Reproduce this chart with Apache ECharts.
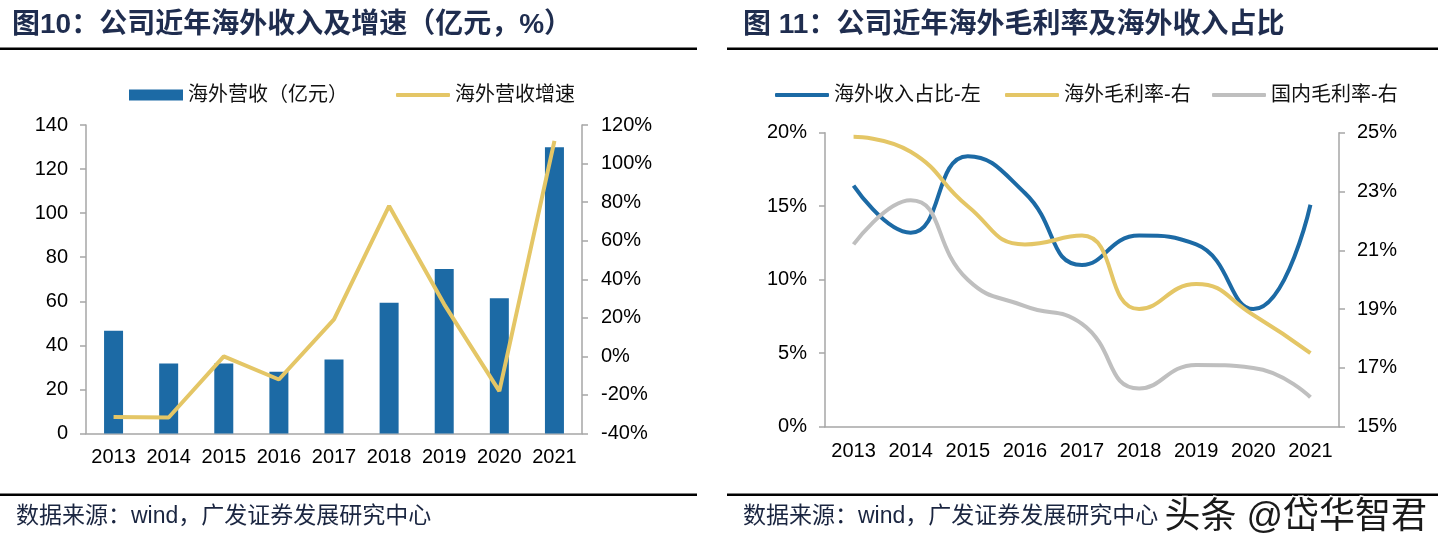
<!DOCTYPE html>
<html><head><meta charset="utf-8">
<script src="https://cdn.jsdelivr.net/npm/echarts@6/dist/echarts.min.js"></script>
<style>html,body{margin:0;padding:0;background:#fff}#c{width:1442px;height:552px}</style>
</head><body><div id="c"></div>
<script>
const years = ['2013','2014','2015','2016','2017','2018','2019','2020','2021'];
// 图10
const overseasRevenue = [46.6, 31.8, 31.8, 28.0, 33.6, 59.3, 74.7, 61.4, 129.9];
const overseasGrowth = [-31.4, -31.7, 0.0, -12.0, 19.2, 78.0, 27.0, -18.0, 111.8];
// 图11
const overseasShare = [16.4, 13.2, 18.4, 15.9, 11.0, 13.0, 12.4, 8.0, 15.1];
const overseasMargin = [24.86, 24.35, 22.5, 21.2, 21.5, 19.0, 19.85, 18.8, 17.5];
const domesticMargin = [21.2, 22.7, 20.0, 19.1, 18.5, 16.3, 17.1, 17.0, 16.0];
const marginTicks = [15, 17, 19, 21, 23, 25];

const title1 = '图10：公司近年海外收入及增速（亿元，%）';
const title2 = '图 11：公司近年海外毛利率及海外收入占比';
const source = '数据来源：wind，广发证券发展研究中心';

const NUM = 'Liberation Sans, Arial, sans-serif';
const CJK = 'Liberation Sans, Noto Sans CJK SC, sans-serif';
const AX = '#a6a6a6';
const C_BLUE = '#1c6aa5', C_YEL = '#e4c666', C_GRAY = '#bfbfbf';

function xAx(gi, margin){
  return {type:'category', gridIndex:gi, data:years, boundaryGap:true,
    axisLine:{lineStyle:{color:AX, width:1.5}}, axisTick:{show:false},
    axisLabel:{fontSize:20, color:'#000', fontFamily:NUM, margin:margin, interval:0}};
}
function yAx(gi, pos, min, max, interval, fmt, margin, extra){
  const a = {type:'value', gridIndex:gi, position:pos, min:min, max:max,
    splitLine:{show:false},
    axisLine:{show:true, lineStyle:{color:AX, width:1.5}},
    axisTick:{show:true, length:6, lineStyle:{color:AX, width:1.5}},
    axisLabel:{fontSize:20, color:'#000', fontFamily:NUM, margin:margin, formatter:fmt}};
  if (interval != null) a.interval = interval;
  if (extra) extra(a);
  return a;
}
function lg(left, name, icon, w, h){
  return {left:left, top:80, itemWidth:w, itemHeight:h, icon:icon, data:[name],
    textStyle:{fontSize:20, color:'#111', fontFamily:CJK}, selectedMode:false};
}

const chart = echarts.init(document.getElementById('c'), null, {renderer:'canvas'});
chart.setOption({
  animation:false,
  backgroundColor:'#fff',
  grid:[
    {left:86, top:125, width:496, height:308.5},
    {left:825, top:132.7, width:514, height:294}
  ],
  xAxis:[xAx(0,14), xAx(1,15)],
  yAxis:[
    yAx(0,'left',0,140,20,'{value}',18),
    yAx(0,'right',-40,120,20,'{value}%',19),
    yAx(1,'left',0,20,5,'{value}%',18),
    yAx(1,'right',15,25,null,'{value}%',18, a=>{
      a.axisLabel.customValues = marginTicks;
      a.axisTick.customValues = marginTicks;
    })
  ],
  legend:[
    lg(124,'海外营收（亿元）','rect',54,11),
    lg(391,'海外营收增速','roundRect',54,4),
    lg(770,'海外收入占比-左','roundRect',54,4),
    lg(1000,'海外毛利率-右','roundRect',54,4),
    lg(1207,'国内毛利率-右','roundRect',54,4)
  ],
  series:[
    {name:'海外营收（亿元）', type:'bar', xAxisIndex:0, yAxisIndex:0, data:overseasRevenue,
      barWidth:19, itemStyle:{color:C_BLUE}},
    {name:'海外营收增速', type:'line', xAxisIndex:0, yAxisIndex:1, data:overseasGrowth,
      symbol:'none', lineStyle:{color:C_YEL, width:4}, itemStyle:{color:C_YEL}},
    {name:'海外收入占比-左', type:'line', xAxisIndex:1, yAxisIndex:2, data:overseasShare,
      symbol:'none', smooth:true, lineStyle:{color:C_BLUE, width:4}, itemStyle:{color:C_BLUE}},
    {name:'海外毛利率-右', type:'line', xAxisIndex:1, yAxisIndex:3, data:overseasMargin,
      symbol:'none', smooth:true, lineStyle:{color:C_YEL, width:4}, itemStyle:{color:C_YEL}},
    {name:'国内毛利率-右', type:'line', xAxisIndex:1, yAxisIndex:3, data:domesticMargin,
      symbol:'none', smooth:true, lineStyle:{color:C_GRAY, width:4}, itemStyle:{color:C_GRAY}}
  ],
  graphic:[
    {type:'text', left:12, top:11, style:{text:title1, fontSize:28, fontWeight:'bold', fill:'#1f2d4f', fontFamily:CJK}},
    {type:'text', left:743, top:11, style:{text:title2, fontSize:28, fontWeight:'bold', fill:'#1f2d4f', fontFamily:CJK}},
    {type:'rect', shape:{x:0, y:47.5, width:697, height:2.5}, style:{fill:'#000'}},
    {type:'rect', shape:{x:727, y:47.5, width:711, height:2.5}, style:{fill:'#000'}},
    {type:'rect', shape:{x:0, y:493.5, width:697, height:2.5}, style:{fill:'#000'}},
    {type:'rect', shape:{x:727, y:493.5, width:711, height:2.5}, style:{fill:'#000'}},
    {type:'text', left:16, top:505, style:{text:source, fontSize:23, fill:'#1a2540', fontFamily:CJK}},
    {type:'text', left:743, top:505, style:{text:source, fontSize:23, fill:'#1a2540', fontFamily:CJK}},
    {type:'text', left:1163, top:499, z:100, style:{text:'头条 @岱华智君', fontSize:36, fill:'#1a1a1a', fontFamily:CJK,
      stroke:'#ffffff', lineWidth:3}}
  ]
});
</script></body></html>
